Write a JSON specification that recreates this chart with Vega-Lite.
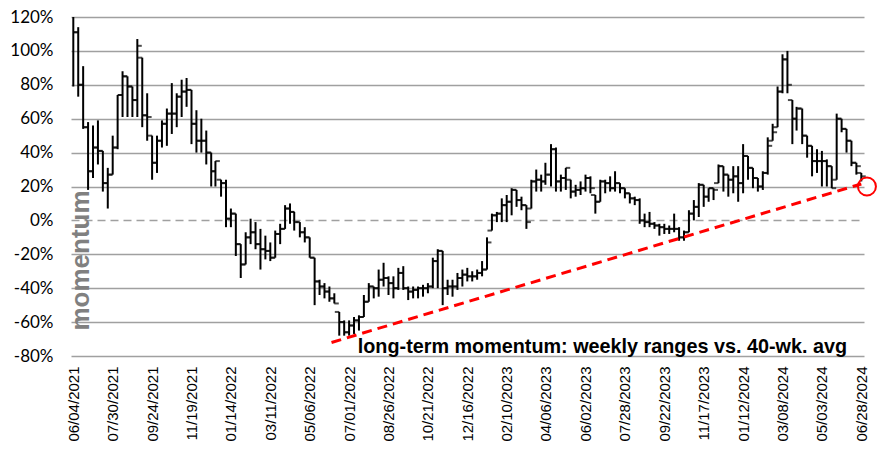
{
"$schema": "https://vega.github.io/schema/vega-lite/v6.json",
"width": 793, "height": 339,
"autosize": "none",
"padding": {"left": 71, "top": 17, "right": 13, "bottom": 95},
"background": "white",
"config": {"view": {"stroke": null}, "axis": {"labelOverlap": false}},
"datasets": {
"bars": [
{"date":"2021-06-04","open":null,"high":120,"low":79,"close":111},
{"date":"2021-06-11","open":111,"high":114,"low":73,"close":80},
{"date":"2021-06-18","open":80,"high":91,"low":54,"close":55},
{"date":"2021-06-25","open":55,"high":58,"low":18,"close":29},
{"date":"2021-07-02","open":29,"high":56,"low":25,"close":43},
{"date":"2021-07-09","open":43,"high":59,"low":33,"close":41},
{"date":"2021-07-16","open":41,"high":41,"low":17,"close":22},
{"date":"2021-07-23","open":22,"high":31,"low":7,"close":27},
{"date":"2021-07-30","open":27,"high":50,"low":27,"close":43},
{"date":"2021-08-06","open":43,"high":74,"low":42,"close":74},
{"date":"2021-08-13","open":74,"high":88,"low":61,"close":85},
{"date":"2021-08-20","open":85,"high":85,"low":61,"close":79},
{"date":"2021-08-27","open":79,"high":79,"low":61,"close":71},
{"date":"2021-09-03","open":71,"high":107,"low":61,"close":103},
{"date":"2021-09-10","open":96,"high":96,"low":55,"close":62},
{"date":"2021-09-17","open":62,"high":75,"low":47,"close":61},
{"date":"2021-09-24","open":50,"high":50,"low":24,"close":34},
{"date":"2021-10-01","open":34,"high":50,"low":28,"close":47},
{"date":"2021-10-08","open":47,"high":59,"low":43,"close":57},
{"date":"2021-10-15","open":57,"high":66,"low":44,"close":63},
{"date":"2021-10-22","open":63,"high":81,"low":51,"close":63},
{"date":"2021-10-29","open":63,"high":75,"low":55,"close":73},
{"date":"2021-11-05","open":73,"high":83,"low":61,"close":76},
{"date":"2021-11-12","open":76,"high":84,"low":67,"close":77},
{"date":"2021-11-19","open":77,"high":77,"low":45,"close":57},
{"date":"2021-11-26","open":57,"high":65,"low":40,"close":47},
{"date":"2021-12-03","open":47,"high":60,"low":40,"close":47},
{"date":"2021-12-10","open":47,"high":53,"low":33,"close":40},
{"date":"2021-12-17","open":40,"high":40,"low":20,"close":29},
{"date":"2021-12-23","open":29,"high":35,"low":20,"close":35},
{"date":"2021-12-31","open":24,"high":24,"low":14,"close":22},
{"date":"2022-01-07","open":22,"high":24,"low":-4,"close":1},
{"date":"2022-01-14","open":1,"high":7,"low":-4,"close":4},
{"date":"2022-01-21","open":4,"high":4,"low":-21,"close":-14},
{"date":"2022-01-28","open":-14,"high":-14,"low":-34,"close":-26},
{"date":"2022-02-04","open":-26,"high":-7,"low":-26,"close":-10},
{"date":"2022-02-11","open":-10,"high":1,"low":-14,"close":-7},
{"date":"2022-02-18","open":-7,"high":-1,"low":-17,"close":-14},
{"date":"2022-02-25","open":-14,"high":-5,"low":-29,"close":-17},
{"date":"2022-03-04","open":-17,"high":-9,"low":-23,"close":-18},
{"date":"2022-03-11","open":-18,"high":-13,"low":-24,"close":-22},
{"date":"2022-03-18","open":-22,"high":-6,"low":-22,"close":-8},
{"date":"2022-03-25","open":-8,"high":-2,"low":-14,"close":-5},
{"date":"2022-04-01","open":-5,"high":9,"low":-5,"close":7},
{"date":"2022-04-08","open":7,"high":10,"low":-2,"close":5},
{"date":"2022-04-14","open":5,"high":5,"low":-6,"close":-1},
{"date":"2022-04-22","open":-1,"high":-1,"low":-10,"close":-7},
{"date":"2022-04-29","open":-7,"high":-4,"low":-13,"close":-10},
{"date":"2022-05-06","open":-10,"high":-10,"low":-22,"close":-22},
{"date":"2022-05-13","open":-22,"high":-22,"low":-50,"close":-36},
{"date":"2022-05-20","open":-36,"high":-35,"low":-44,"close":-39},
{"date":"2022-05-27","open":-39,"high":-37,"low":-46,"close":-42},
{"date":"2022-06-03","open":-42,"high":-39,"low":-48,"close":-46},
{"date":"2022-06-10","open":-46,"high":-43,"low":-49,"close":-49},
{"date":"2022-06-17","open":-54,"high":-54,"low":-68,"close":-60},
{"date":"2022-06-24","open":-60,"high":-59,"low":-68,"close":-66},
{"date":"2022-07-01","open":-66,"high":-59,"low":-68,"close":-62},
{"date":"2022-07-08","open":-62,"high":-57,"low":-67,"close":-59},
{"date":"2022-07-15","open":-59,"high":-56,"low":-65,"close":-57},
{"date":"2022-07-22","open":-57,"high":-44,"low":-57,"close":-48},
{"date":"2022-07-29","open":-48,"high":-37,"low":-48,"close":-39},
{"date":"2022-08-05","open":-39,"high":-39,"low":-46,"close":-40},
{"date":"2022-08-12","open":-40,"high":-29,"low":-45,"close":-35},
{"date":"2022-08-19","open":-35,"high":-25,"low":-39,"close":-34},
{"date":"2022-08-26","open":-34,"high":-33,"low":-44,"close":-37},
{"date":"2022-09-02","open":-37,"high":-33,"low":-46,"close":-40},
{"date":"2022-09-09","open":-40,"high":-28,"low":-41,"close":-31},
{"date":"2022-09-16","open":-31,"high":-27,"low":-41,"close":-40},
{"date":"2022-09-23","open":-40,"high":-39,"low":-47,"close":-42},
{"date":"2022-09-30","open":-42,"high":-39,"low":-46,"close":-41},
{"date":"2022-10-07","open":-41,"high":-39,"low":-46,"close":-40},
{"date":"2022-10-14","open":-40,"high":-38,"low":-45,"close":-40},
{"date":"2022-10-21","open":-40,"high":-37,"low":-43,"close":-39},
{"date":"2022-10-28","open":-39,"high":-22,"low":-40,"close":-24},
{"date":"2022-11-04","open":-24,"high":-17,"low":-40,"close":-18},
{"date":"2022-11-11","open":-18,"high":-18,"low":-50,"close":-40},
{"date":"2022-11-18","open":-40,"high":-35,"low":-44,"close":-39},
{"date":"2022-11-25","open":-39,"high":-35,"low":-45,"close":-39},
{"date":"2022-12-02","open":-39,"high":-31,"low":-41,"close":-34},
{"date":"2022-12-09","open":-34,"high":-29,"low":-39,"close":-32},
{"date":"2022-12-16","open":-32,"high":-28,"low":-36,"close":-33},
{"date":"2022-12-23","open":-33,"high":-30,"low":-36,"close":-33},
{"date":"2022-12-30","open":-33,"high":-29,"low":-35,"close":-31},
{"date":"2023-01-06","open":-31,"high":-24,"low":-33,"close":-29},
{"date":"2023-01-13","open":-29,"high":-10,"low":-29,"close":-13},
{"date":"2023-01-20","open":-6,"high":4,"low":-6,"close":3},
{"date":"2023-01-27","open":3,"high":5,"low":-1,"close":4},
{"date":"2023-02-03","open":4,"high":13,"low":-1,"close":9},
{"date":"2023-02-10","open":9,"high":15,"low":-1,"close":11},
{"date":"2023-02-17","open":11,"high":19,"low":3,"close":18},
{"date":"2023-02-24","open":18,"high":18,"low":8,"close":12},
{"date":"2023-03-03","open":12,"high":14,"low":6,"close":9},
{"date":"2023-03-10","open":9,"high":9,"low":-5,"close":-1},
{"date":"2023-03-17","open":7,"high":24,"low":7,"close":23},
{"date":"2023-03-24","open":23,"high":30,"low":17,"close":24},
{"date":"2023-03-31","open":24,"high":27,"low":17,"close":23},
{"date":"2023-04-06","open":23,"high":34,"low":21,"close":27},
{"date":"2023-04-14","open":27,"high":45,"low":20,"close":42},
{"date":"2023-04-21","open":42,"high":43,"low":17,"close":23},
{"date":"2023-04-28","open":23,"high":27,"low":17,"close":25},
{"date":"2023-05-05","open":25,"high":31,"low":18,"close":31},
{"date":"2023-05-12","open":24,"high":24,"low":13,"close":17},
{"date":"2023-05-19","open":17,"high":21,"low":14,"close":18},
{"date":"2023-05-26","open":18,"high":23,"low":15,"close":19},
{"date":"2023-06-02","open":19,"high":27,"low":17,"close":25},
{"date":"2023-06-09","open":25,"high":26,"low":16,"close":19},
{"date":"2023-06-16","open":15,"high":15,"low":4,"close":11},
{"date":"2023-06-23","open":11,"high":24,"low":11,"close":23},
{"date":"2023-06-30","open":23,"high":24,"low":16,"close":22},
{"date":"2023-07-07","open":22,"high":26,"low":17,"close":19},
{"date":"2023-07-14","open":19,"high":29,"low":17,"close":22},
{"date":"2023-07-21","open":22,"high":22,"low":16,"close":19},
{"date":"2023-07-28","open":19,"high":19,"low":13,"close":16},
{"date":"2023-08-04","open":16,"high":16,"low":10,"close":13},
{"date":"2023-08-11","open":13,"high":14,"low":9,"close":12},
{"date":"2023-08-18","open":12,"high":13,"low":-2,"close":0},
{"date":"2023-08-25","open":0,"high":4,"low":-4,"close":-1},
{"date":"2023-09-01","open":-1,"high":5,"low":-4,"close":-2},
{"date":"2023-09-08","open":-2,"high":-1,"low":-5,"close":-3},
{"date":"2023-09-15","open":-3,"high":-2,"low":-9,"close":-4},
{"date":"2023-09-22","open":-4,"high":-2,"low":-8,"close":-5},
{"date":"2023-09-29","open":-5,"high":-3,"low":-8,"close":-5},
{"date":"2023-10-06","open":-5,"high":4,"low":-7,"close":-5},
{"date":"2023-10-13","open":-5,"high":-4,"low":-12,"close":-10},
{"date":"2023-10-20","open":-10,"high":-6,"low":-12,"close":-7},
{"date":"2023-10-27","open":-7,"high":6,"low":-7,"close":4},
{"date":"2023-11-03","open":4,"high":12,"low":0,"close":8},
{"date":"2023-11-10","open":8,"high":22,"low":2,"close":21},
{"date":"2023-11-17","open":21,"high":21,"low":8,"close":14},
{"date":"2023-11-24","open":14,"high":19,"low":11,"close":19},
{"date":"2023-12-01","open":19,"high":19,"low":12,"close":18},
{"date":"2023-12-08","open":22,"high":33,"low":22,"close":32},
{"date":"2023-12-15","open":32,"high":32,"low":17,"close":27},
{"date":"2023-12-22","open":27,"high":27,"low":14,"close":24},
{"date":"2023-12-29","open":24,"high":32,"low":16,"close":26},
{"date":"2024-01-05","open":26,"high":32,"low":11,"close":22},
{"date":"2024-01-12","open":22,"high":45,"low":16,"close":38},
{"date":"2024-01-19","open":38,"high":38,"low":24,"close":31},
{"date":"2024-01-26","open":31,"high":31,"low":19,"close":25},
{"date":"2024-02-02","open":25,"high":25,"low":17,"close":20},
{"date":"2024-02-09","open":20,"high":29,"low":18,"close":28},
{"date":"2024-02-16","open":28,"high":49,"low":27,"close":44},
{"date":"2024-02-23","open":47,"high":57,"low":47,"close":52},
{"date":"2024-03-01","open":55,"high":79,"low":55,"close":76},
{"date":"2024-03-08","open":76,"high":98,"low":75,"close":95},
{"date":"2024-03-15","open":95,"high":100,"low":75,"close":80},
{"date":"2024-03-22","open":71,"high":71,"low":45,"close":60},
{"date":"2024-03-28","open":60,"high":67,"low":53,"close":66},
{"date":"2024-04-05","open":66,"high":66,"low":45,"close":50},
{"date":"2024-04-12","open":50,"high":50,"low":37,"close":44},
{"date":"2024-04-19","open":44,"high":44,"low":26,"close":35},
{"date":"2024-04-26","open":35,"high":42,"low":28,"close":35},
{"date":"2024-05-03","open":35,"high":41,"low":20,"close":35},
{"date":"2024-05-10","open":35,"high":36,"low":20,"close":32},
{"date":"2024-05-17","open":32,"high":32,"low":19,"close":19},
{"date":"2024-05-24","open":24,"high":63,"low":24,"close":60},
{"date":"2024-05-31","open":60,"high":60,"low":52,"close":54},
{"date":"2024-06-07","open":54,"high":54,"low":40,"close":47},
{"date":"2024-06-14","open":47,"high":47,"low":32,"close":34},
{"date":"2024-06-21","open":34,"high":34,"low":27,"close":32},
{"date":"2024-06-28","open":28,"high":28,"low":23,"close":26}
],
"trend": [
{"date":"2022-06-06","value":-72},
{"date":"2024-06-28","value":21.5}
],
"marker": [
{"date":"2024-07-06","value":20}
],
"note": [
{"date":"2023-06-26","value":-78.2,"label":"long-term momentum: weekly ranges vs. 40-wk. avg"}
]
},
"layer": [
{
"data": {"name": "bars"},
"mark": {"type": "rule", "color": "black", "strokeWidth": 2},
"encoding": {
"x": {"field": "date", "type": "temporal",
"scale": {"type": "utc", "nice": false,
"domain": [{"year":2021,"month":5,"date":31,"hours":17,"minutes":30,"utc":true},{"year":2024,"month":7,"date":1,"hours":20,"utc":true}]},
"axis": {"title": null, "grid": false, "domain": false, "ticks": false, "tickCount": 100,
"labelExpr": "utcFormat(datum.value, '%m/%d/%Y')",
"labelAngle": 270, "labelFont": "Liberation Sans", "labelFontSize": 15, "labelColor": "black",
"labelPadding": 10, "labelOverlap": false, "labelFlush": false, "labelBound": false,
"values": [
{"year":2021,"month":6,"date":4,"utc":true},
{"year":2021,"month":7,"date":30,"utc":true},
{"year":2021,"month":9,"date":24,"utc":true},
{"year":2021,"month":11,"date":19,"utc":true},
{"year":2022,"month":1,"date":14,"utc":true},
{"year":2022,"month":3,"date":11,"utc":true},
{"year":2022,"month":5,"date":6,"utc":true},
{"year":2022,"month":7,"date":1,"utc":true},
{"year":2022,"month":8,"date":26,"utc":true},
{"year":2022,"month":10,"date":21,"utc":true},
{"year":2022,"month":12,"date":16,"utc":true},
{"year":2023,"month":2,"date":10,"utc":true},
{"year":2023,"month":4,"date":6,"utc":true},
{"year":2023,"month":6,"date":2,"utc":true},
{"year":2023,"month":7,"date":28,"utc":true},
{"year":2023,"month":9,"date":22,"utc":true},
{"year":2023,"month":11,"date":17,"utc":true},
{"year":2024,"month":1,"date":12,"utc":true},
{"year":2024,"month":3,"date":8,"utc":true},
{"year":2024,"month":5,"date":3,"utc":true},
{"year":2024,"month":6,"date":28,"utc":true}
]}},
"y": {"field": "low", "type": "quantitative",
"scale": {"domain": [-80, 120], "nice": false, "zero": false},
"axis": {"values": [-80,-60,-40,-20,0,20,40,60,80,100,120], "tickCount": 100,
"labelExpr": "datum.value + '%'", "labelOverlap": false,
"grid": true, "gridColor": "#a0a0a0", "gridWidth": 1.5,
"gridDash": {"condition": {"test": "datum.value === 0", "value": [8, 5]}, "value": []},
"domain": false, "ticks": false,
"labelFont": "Lato", "labelFontSize": 17, "labelColor": "black", "labelPadding": 18,
"title": "momentum", "titleFont": "Liberation Sans", "titleFontSize": 26, "titleFontWeight": "bold",
"titleColor": "#808080", "titleAngle": 270, "titleX": -4, "titleY": 243,
"titleAlign": "center", "titleBaseline": "top"}},
"y2": {"field": "high"}
}
},
{
"data": {"name": "bars"},
"mark": {"type": "tick", "orient": "horizontal", "color": "black", "size": 4.5, "thickness": 2, "xOffset": -2.2},
"encoding": {
"x": {"field": "date", "type": "temporal"},
"y": {"field": "open", "type": "quantitative"}
}
},
{
"data": {"name": "bars"},
"mark": {"type": "tick", "orient": "horizontal", "color": "black", "size": 4.5, "thickness": 2, "xOffset": 2.2},
"encoding": {
"x": {"field": "date", "type": "temporal"},
"y": {"field": "close", "type": "quantitative"}
}
},
{
"data": {"name": "trend"},
"mark": {"type": "line", "color": "#ff0000", "strokeWidth": 3, "strokeDash": [10, 6]},
"encoding": {
"x": {"field": "date", "type": "temporal"},
"y": {"field": "value", "type": "quantitative"}
}
},
{
"data": {"name": "marker"},
"mark": {"type": "point", "shape": "circle", "size": 324, "filled": false, "stroke": "#ff0000", "strokeWidth": 2, "opacity": 1},
"encoding": {
"x": {"field": "date", "type": "temporal"},
"y": {"field": "value", "type": "quantitative"}
}
},
{
"data": {"name": "note"},
"mark": {"type": "text", "font": "Liberation Sans", "fontWeight": "bold", "fontSize": 19.8, "align": "center", "baseline": "alphabetic", "color": "black"},
"encoding": {
"x": {"field": "date", "type": "temporal"},
"y": {"field": "value", "type": "quantitative"},
"text": {"field": "label"}
}
}
]
}
